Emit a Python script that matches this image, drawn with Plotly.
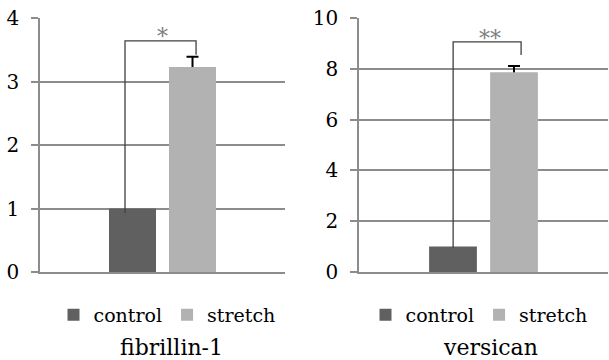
import plotly.graph_objects as go

# ---- data ----
groups = ["control", "stretch"]
genes = ["fibrillin-1", "versican"]
fib_values = [1.0, 3.23]
fib_errors = [0.0, 0.16]
ver_values = [1.0, 7.86]
ver_errors = [0.0, 0.25]
fib_sig = "*"
ver_sig = "**"
# significance bracket: [left leg bottom, top, right leg bottom]
fib_bracket_y = [0.93, 3.64, 3.42]
ver_bracket_y = [0.94, 9.06, 8.54]
fib_yticks = [0, 1, 2, 3, 4]
ver_yticks = [0, 2, 4, 6, 8, 10]

colors = {"control": "#606060", "stretch": "#b2b2b2"}
FONT = "DejaVu Serif"
GRID = "#8c8c8c"
W, H = 609, 360

fig = go.Figure()

panels = [
    (genes[0], fib_values, fib_errors, "x", "y", "legend"),
    (genes[1], ver_values, ver_errors, "x2", "y2", "legend2"),
]
for gene, vals, errs, xa, ya, lg in panels:
    for g, v, e in zip(groups, vals, errs):
        if e > 0:
            # error bar carrier drawn underneath the visible bar (lower half hidden by the bar)
            fig.add_trace(go.Bar(
                x=[gene], y=[v], name=g, xaxis=xa, yaxis=ya, offsetgroup=g,
                showlegend=False, hoverinfo="skip",
                marker=dict(color="rgba(0,0,0,0)", line=dict(width=0)),
                error_y=dict(type="data", symmetric=True, array=[e],
                             color="black", thickness=2, width=6),
            ))
        fig.add_trace(go.Bar(
            x=[gene], y=[v], name=g, xaxis=xa, yaxis=ya, legend=lg, offsetgroup=g,
            marker=dict(color=colors[g], line=dict(width=0)),
        ))

def px_x(p):
    return p / W

def px_y(p):
    return 1 - p / H

common_y = dict(showline=True, linecolor=GRID, linewidth=1.5, ticks="outside",
                ticklen=7, tickcolor=GRID, tickwidth=1.5, showgrid=True,
                gridcolor=GRID, gridwidth=1.5, zeroline=False, ticklabelstandoff=8,
                ticklabeloverflow="allow",
                tickfont=dict(family=FONT, size=20, color="black"),
                domain=[px_y(272), px_y(18)])
common_x = dict(showline=True, linecolor=GRID, linewidth=1.5, showticklabels=False,
                ticks="", showgrid=False, zeroline=False, range=[-0.5, 0.5])

fig.update_layout(
    width=W, height=H, margin=dict(l=0, r=0, t=0, b=0, autoexpand=False),
    paper_bgcolor="white", plot_bgcolor="white",
    barmode="group", bargap=0.51, bargroupgap=0.217,
    xaxis=dict(common_x, domain=[px_x(40), px_x(285)], anchor="y"),
    xaxis2=dict(common_x, domain=[px_x(359), px_x(608)], anchor="y2"),
    yaxis=dict(common_y, range=[0, 4], tickvals=fib_yticks, anchor="x"),
    yaxis2=dict(common_y, range=[0, 10], tickvals=ver_yticks, anchor="x2"),
    legend=dict(orientation="h", x=px_x(167), xanchor="center", y=px_y(315), yanchor="middle",
                font=dict(family=FONT, size=19, color="black"), itemwidth=30,
                bgcolor="rgba(0,0,0,0)"),
    legend2=dict(orientation="h", x=px_x(479), xanchor="center", y=px_y(315), yanchor="middle",
                 font=dict(family=FONT, size=19, color="black"), itemwidth=30,
                 bgcolor="rgba(0,0,0,0)"),
    showlegend=True,
)

# significance brackets
brackets = [
    ("x", "y", -0.153, 0.137, fib_bracket_y, fib_sig, 0.0, 3.71),
    ("x2", "y2", -0.122, 0.151, ver_bracket_y, ver_sig, 0.026, 9.18),
]
for xa, ya, xl, xr, by, sig, sx, sy in brackets:
    fig.add_shape(type="path", xref=xa, yref=ya,
                  path=f"M {xl},{by[0]} L {xl},{by[1]} L {xr},{by[1]} L {xr},{by[2]}",
                  line=dict(color="#404040", width=1.3))
    fig.add_annotation(x=sx, y=sy, xref=xa, yref=ya, text=sig, showarrow=False,
                       font=dict(family=FONT, size=22, color="#808080"),
                       yanchor="middle")

# gene titles
for gene, cx in zip(genes, [171, 490]):
    fig.add_annotation(x=px_x(cx), y=px_y(347), xref="paper", yref="paper", text=gene,
                       showarrow=False, font=dict(family=FONT, size=22, color="black"),
                       xanchor="center", yanchor="middle")

# remove the default 8px page margin so the figure fills the window exactly
fig.write_html("out.html", config={"displayModeBar": False},
               post_script="document.body.style.margin='0px';")
